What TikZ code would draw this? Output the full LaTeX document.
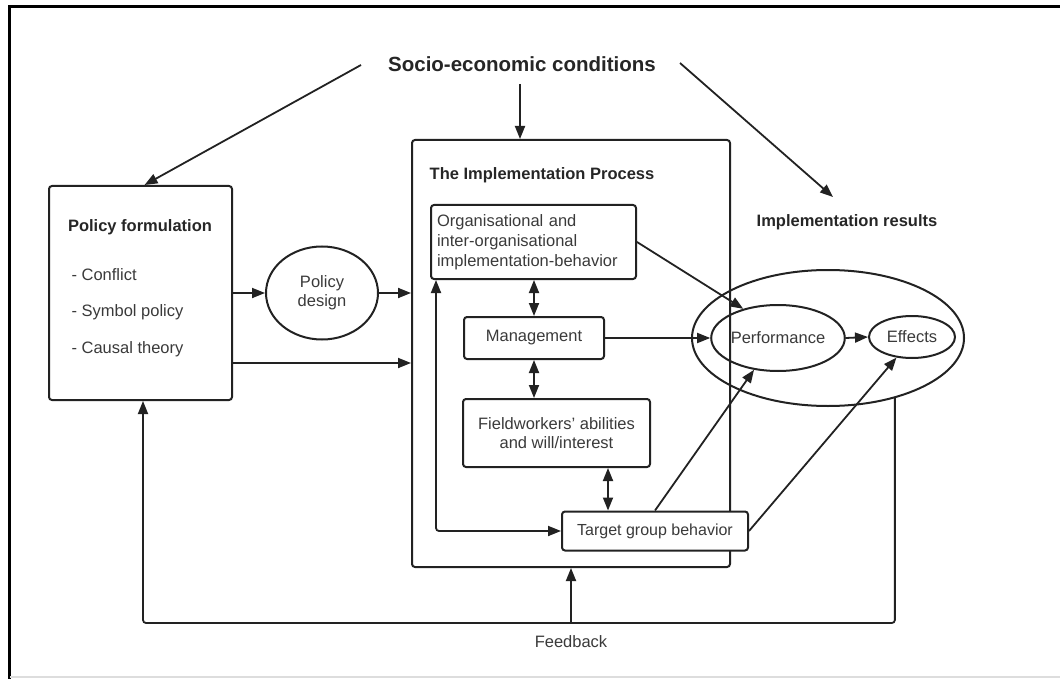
\documentclass[tikz,border=0pt]{standalone}
\usepackage{fontspec}
\setmainfont{Liberation Sans}
\usetikzlibrary{arrows.meta,shapes.geometric}
\definecolor{txtgray}{HTML}{3A3A3A}
\definecolor{linegray}{HTML}{222222}
\definecolor{framegray}{HTML}{DDDDDD}
\begin{document}
\begin{tikzpicture}[x=1pt,y=-1pt,
  every node/.style={font=\fontsize{16.5}{19}\selectfont, text=txtgray},
  boxst/.style={draw=linegray, line width=2pt, rounded corners=3pt, inner sep=6pt},
  ellst/.style={draw=linegray, line width=2pt, ellipse, inner sep=0pt},
  headst/.style={font=\fontsize{16.5}{19}\selectfont\bfseries, text=black!85},
  arr/.style={draw=linegray, line width=1.8pt, -{Triangle[length=13pt,width=10pt]}},
  darr/.style={draw=linegray, line width=1.8pt, {Triangle[length=13pt,width=10pt]}-{Triangle[length=13pt,width=10pt]}},
  plain/.style={draw=linegray, line width=1.8pt}
]
\useasboundingbox (0,0) rectangle (1060,679);
% outer frame
\draw[line width=3pt, black] (9,679) -- (9,7) -- (1060,7);
\draw[line width=2.5pt, framegray] (10,677) -- (1060,677);

% nodes
\node[headst, font=\fontsize{20.5}{24}\selectfont\bfseries] (socio) at (522,64) {Socio-economic conditions};

\node[boxst, minimum width=183pt, minimum height=214pt] (pf) at (140.5,293) {};
\node[headst] (pftitle) at (140,227) {Policy formulation};
\node[anchor=west] (pfa) at (68,275) {- Conflict};
\node[anchor=west] (pfb) at (68,312) {- Symbol policy};
\node[anchor=west] (pfc) at (68,349) {- Causal theory};

\node[ellst, minimum width=112pt, minimum height=93pt, align=center] (pd) at (322,293) {Policy\\design};

\node[boxst, minimum width=318pt, minimum height=427pt] (impl) at (571,353.5) {};
\node[headst] (impltitle) at (542,175) {The Implementation Process};

\node[boxst, text width=193pt, align=left, minimum height=74pt, font=\fontsize{16.5}{20}\selectfont] (org) at (533.5,242)
  {Organisational and\\inter-organisational\\implementation-behavior};
\node[boxst, minimum width=140pt, minimum height=42pt] (mgmt) at (534,338) {Management};
\node[boxst, minimum width=187pt, minimum height=68pt, align=center] (field) at (556.5,433)
  {Fieldworkers' abilities\\and will/interest};
\node[boxst, fill=white, minimum width=186pt, minimum height=39pt, inner sep=2pt, font=\fontsize{16}{19}\selectfont] (target) at (655,531) {Target group behavior};

\node[ellst, minimum width=272pt, minimum height=136pt] (big) at (828,338) {};
\node[ellst, minimum width=132pt, minimum height=66pt] (perf) at (778,338) {Performance};
\node[ellst, minimum width=86pt, minimum height=42pt] (eff) at (912,337) {Effects};

\node[headst] (impres) at (847,222) {Implementation results};
\node (fbtext) at (571,642) {Feedback};

% helper coordinates
\coordinate (s1) at (361,65);
\coordinate (s2) at (520,84);
\coordinate (s3) at (680,63);
\coordinate (s3e) at (833,197);
\coordinate (fbl) at (143,623);
\path ([xshift=51.5pt]field.south) coordinate (ft);
\path ([xshift=6pt]org.south west) coordinate (lp);
\path ([yshift=-70pt]pf.east) coordinate (pf2);

% connectors
\draw[arr] (s1) -- ([xshift=4pt]pf.north);
\draw[arr] (s2) -- (s2 |- impl.north);
\draw[arr] (s3) -- (s3e);

\draw[arr] (pf.east) -- (pd.west);
\draw[arr] (pd.east) -- (impl.west |- pd.east);
\draw[arr] (pf2) -- (impl.west |- pf2);

\draw[darr] (mgmt.north |- org.south) -- (mgmt.north);
\draw[darr] (mgmt.south) -- (mgmt.south |- field.north);
\draw[darr] (ft) -- (ft |- target.north);
\draw[darr, rounded corners=3pt] (lp) -- (lp |- target.west) -- (target.west);

\draw[arr] (mgmt.east) -- (perf.west);
\draw[arr] (org.east) -- (perf.140);
\draw[arr] (target.north) -- (perf.233);
\draw[arr] (target.east) -- (eff.233);
\draw[arr] (perf.east) -- (eff.west);

\draw[arr, rounded corners=3pt] (big.-42.6) |- (fbl) -- (fbl |- pf.south);
\draw[arr] (impl.south |- fbl) -- (impl.south);
\end{tikzpicture}
\end{document}
